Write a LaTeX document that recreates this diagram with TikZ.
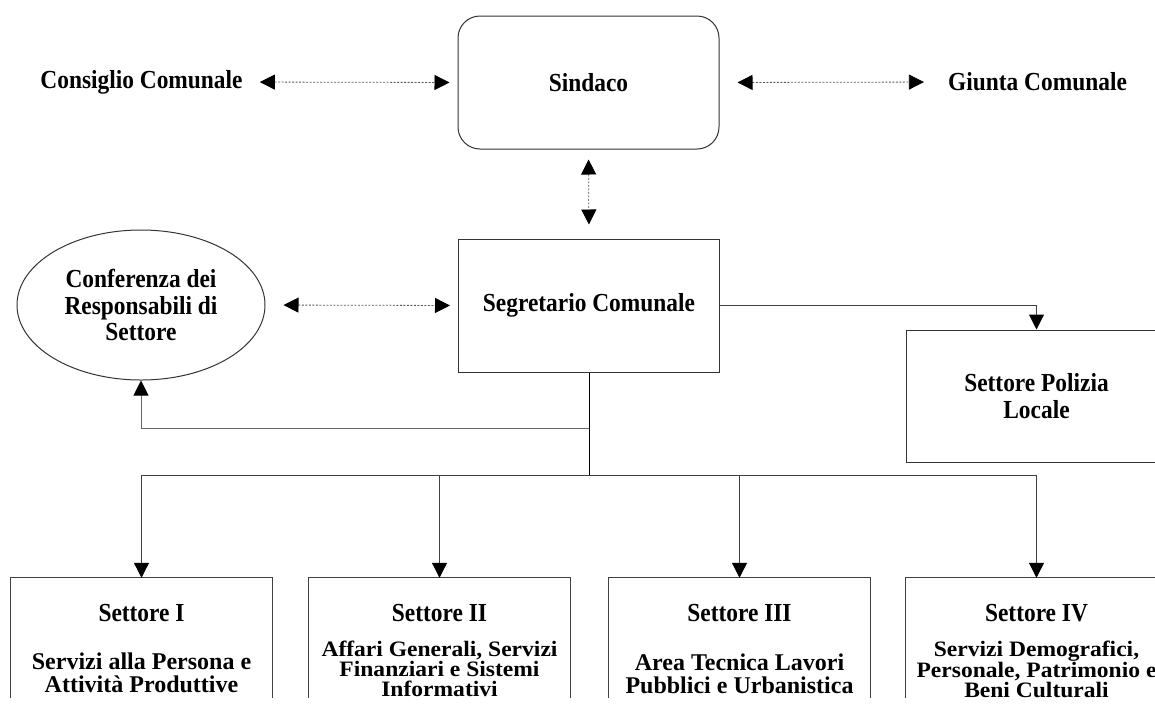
\documentclass[tikz,border=0pt]{standalone}
\usepackage{fontspec}
\setmainfont{Liberation Serif}[FakeStretch=0.9]
\newfontfamily\plainserif{Liberation Serif}
\newfontfamily\wideserif{Liberation Serif}[FakeStretch=1.07]
\usetikzlibrary{arrows.meta,shapes.geometric}
\tikzset{
  lbl/.style={font=\fontsize{26}{26.5}\selectfont\bfseries, inner sep=0pt, align=center},
  twoline/.style={lbl, font=\plainserif\fontsize{24}{23}\selectfont\bfseries},
  threeline/.style={lbl, font=\wideserif\fontsize{22}{20}\selectfont\bfseries},
  mainbox/.style={draw=black!80, line width=1pt, minimum width=261pt, inner sep=0pt},
  conn/.style={draw=black!75, line width=1pt, -{Triangle[length=15pt,width=15pt,color=black]}},
  dbl/.style={draw=black!65, line width=0.8pt, dash pattern=on 2pt off 1.5pt,
     {Triangle[length=15pt,width=15pt,color=black]}-{Triangle[length=15pt,width=15pt,color=black]}},
  plain/.style={draw=black!75, line width=1pt},
  sect/.style={minimum width=261pt, minimum height=120pt, inner sep=0pt},
}
\begin{document}
\begin{tikzpicture}[x=1pt,y=-1pt]
\useasboundingbox (0,0) rectangle (1155,705);
% top row
\node[mainbox, rounded corners=22pt, minimum height=133pt, lbl] (sind) at (588.5,82.5) {Sindaco};
\node[lbl] (cons) at (141.5,82) {Consiglio Comunale};
\node[lbl] (giun) at (1037.5,82) {Giunta Comunale};
\draw[dbl, shorten <=17pt, shorten >=8pt] (cons.east) -- (sind.west);
\draw[dbl, shorten <=18pt, shorten >=24pt] (sind.east) -- (giun.west);
% middle row
\node[mainbox, minimum height=133pt, lbl] (segr) at (589,305.5) {Segretario Comunale};
\draw[dbl, shorten <=10pt, shorten >=14pt] (sind.south) -- (segr.north);
\node[ellipse, draw=black!80, line width=1pt, minimum width=248pt, minimum height=150pt, inner sep=0pt, lbl] (conf) at (141,305) {Conferenza dei\\Responsabili di\\Settore};
\draw[dbl, shorten <=18pt, shorten >=8pt] (conf.east) -- (segr.west);
\node[mainbox, minimum height=132pt, lbl] (pol) at (1036.5,396) {Settore Polizia\\Locale};
\draw[conn] (segr.east) -| (pol.north);
% junctions
\coordinate (j1) at (589,428);
\coordinate (j2) at (589,475);
\draw[plain, draw=black] (segr.south) -- (j2);
\draw[conn, draw=black!60] (j1) -| (conf.south);
% bottom sectors
\foreach \n/\x in {s1/141.5, s2/439.5, s3/739.5, s4/1036.5}{
  \node[sect] (\n) at (\x,638) {};
  \draw[plain] (\n.south west) -- (\n.north west) -- (\n.north east) -- (\n.south east);
  \draw[conn] (j2) -| (\n.north);
}
\node[lbl] (t1) at (141.5,613) {Settore I};
\node[lbl] (t2) at (439.5,613) {Settore II};
\node[lbl] (t3) at (739.5,613) {Settore III};
\node[lbl] (t4) at (1036.5,613) {Settore IV};
\node[twoline] (b1) at (141.5,673) {Servizi alla Persona e\\Attività Produttive};
\node[threeline] (b2) at (439.5,669) {Affari Generali, Servizi\\Finanziari e Sistemi\\Informativi};
\node[twoline] (b3) at (739.5,674) {Area Tecnica Lavori\\Pubblici e Urbanistica};
\node[threeline] (b4) at (1036.5,669) {Servizi Demografici,\\Personale, Patrimonio e\\Beni Culturali};
\end{tikzpicture}
\end{document}
